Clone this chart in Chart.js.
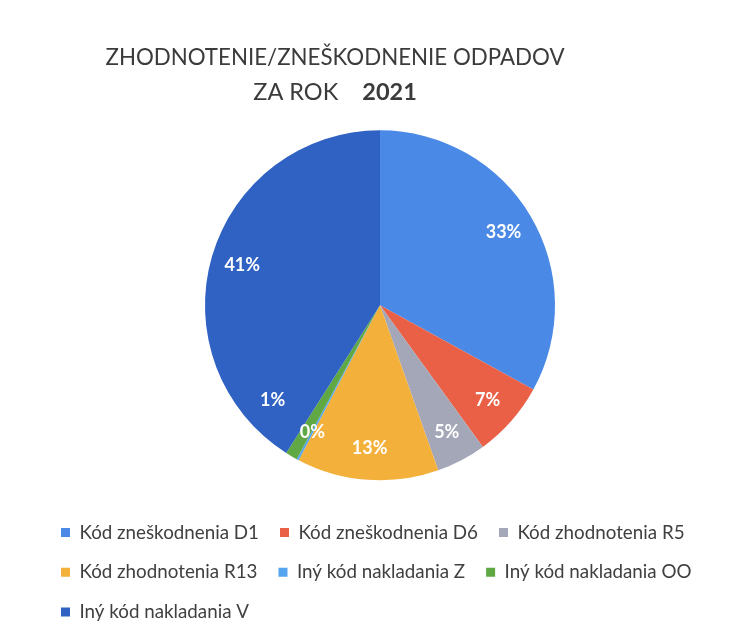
<!DOCTYPE html>
<html>
<head>
<meta charset="utf-8">
<script src="https://cdn.jsdelivr.net/npm/chart.js@4"></script>
<style>
  html, body { margin: 0; padding: 0; background: #ffffff; }
  #wrap { width: 740px; height: 643px; }
</style>
</head>
<body>
<div id="wrap"><canvas id="c" width="740" height="643"></canvas></div>
<script>
const categories = [
  'Kód zneškodnenia D1',
  'Kód zneškodnenia D6',
  'Kód zhodnotenia R5',
  'Kód zhodnotenia R13',
  'Iný kód nakladania Z',
  'Iný kód nakladania OO',
  'Iný kód nakladania V'
];
const shares = [33.0, 7.0, 4.6, 13.1, 0.2, 1.1, 41.0];
const sliceColors = ['#4a89e6', '#ea6046', '#a4a7b8', '#f3b13c', '#55a4ee', '#5fa843', '#2f62c3'];
const titleLine1 = 'ZHODNOTENIE/ZNEŠKODNENIE ODPADOV';
const titleLine2 = 'ZA ROK';
const titleYear = '2021';

const FONT = 'Lato, "Open Sans", sans-serif';
const TITLE_COLOR = '#3b3b3b';

const titlePlugin = {
  id: 'twoLineTitle',
  afterDraw(chart) {
    const ctx = chart.ctx;
    const cx = 335;
    ctx.save();
    ctx.fillStyle = TITLE_COLOR;
    ctx.textBaseline = 'middle';
    ctx.textAlign = 'center';
    ctx.font = '22.3px ' + FONT;
    ctx.fillText(titleLine1, cx, 58);
    ctx.textAlign = 'left';
    ctx.font = '23.5px ' + FONT;
    const w1 = ctx.measureText(titleLine2).width;
    ctx.font = 'bold 23.5px ' + FONT;
    const w2 = ctx.measureText(titleYear).width;
    const gap = 24;
    const start = cx - (w1 + gap + w2) / 2;
    ctx.font = '23.5px ' + FONT;
    ctx.fillText(titleLine2, start, 92);
    ctx.font = 'bold 23.5px ' + FONT;
    ctx.fillText(titleYear, start + w1 + gap, 92);
    ctx.restore();
  }
};

const sliceLabelPlugin = {
  id: 'sliceLabels',
  afterDatasetsDraw(chart) {
    const ctx = chart.ctx;
    const meta = chart.getDatasetMeta(0);
    const data = chart.data.datasets[0].data;
    const total = data.reduce((a, b) => a + b, 0);
    ctx.save();
    ctx.fillStyle = '#ffffff';
    ctx.font = 'bold 18px ' + FONT;
    ctx.textAlign = 'center';
    ctx.textBaseline = 'middle';
    meta.data.forEach((arc, i) => {
      const p = arc.getProps(['x', 'y', 'startAngle', 'endAngle', 'outerRadius'], true);
      let mid = (p.startAngle + p.endAngle) / 2;
      if (i === 5) mid += 18 * Math.PI / 180;
      const r = p.outerRadius * 0.82;
      const x = p.x + Math.cos(mid) * r;
      const y = p.y + Math.sin(mid) * r;
      ctx.fillText(Math.round(data[i] / total * 100) + '%', x, y);
    });
    ctx.restore();
  }
};

new Chart(document.getElementById('c'), {
  type: 'pie',
  data: {
    labels: categories,
    datasets: [{
      data: shares,
      backgroundColor: sliceColors,
      borderWidth: 0
    }]
  },
  options: {
    responsive: false,
    animation: false,
    devicePixelRatio: 1,
    radius: 175,
    layout: { padding: { top: 108.5, left: 40, right: 20, bottom: 11.5 } },
    plugins: {
      title: { display: false },
      tooltip: { enabled: false },
      legend: {
        position: 'bottom',
        align: 'start',
        labels: {
          boxWidth: 9,
          boxHeight: 9,
          padding: 21,
          color: '#404040',
          font: { family: FONT, size: 18.8 }
        }
      }
    }
  },
  plugins: [titlePlugin, sliceLabelPlugin]
});
</script>
</body>
</html>
